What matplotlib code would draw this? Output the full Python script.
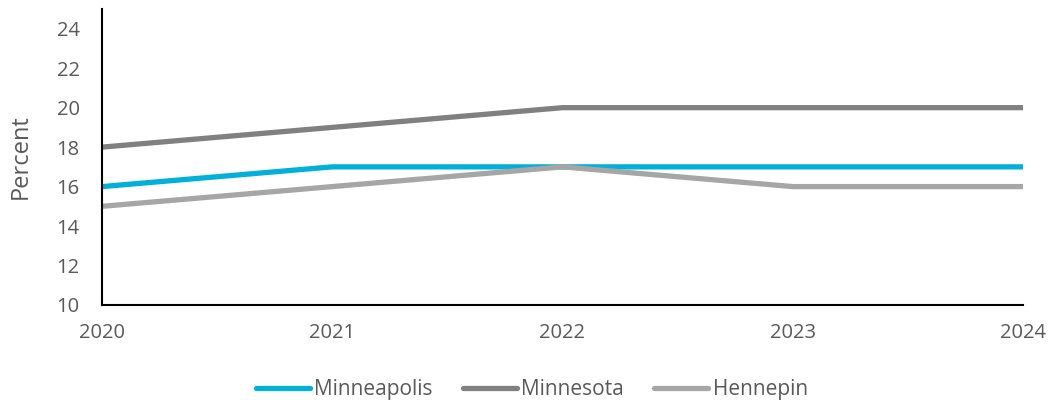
import matplotlib
matplotlib.use("Agg")
import matplotlib.pyplot as plt

years = [2020, 2021, 2022, 2023, 2024]
minneapolis = [16, 17, 17, 17, 17]
minnesota = [18, 19, 20, 20, 20]
hennepin = [15, 16, 17, 16, 16]
yticks = [10, 12, 14, 16, 18, 20, 22, 24]

plt.rcParams['font.family'] = ['Open Sans', 'DejaVu Sans']
txt = '#595959'

fig = plt.figure(figsize=(10.51, 4.0), dpi=100)
ax = fig.add_axes([0.097, 0.2375, 0.8764, 0.74])

ax.plot(years, minneapolis, color='#00B0D8', lw=3.8, solid_capstyle='round', label='Minneapolis')
ax.plot(years, minnesota, color='#808080', lw=3.8, solid_capstyle='round', label='Minnesota')
ax.plot(years, hennepin, color='#A6A6A6', lw=3.8, solid_capstyle='round', label='Hennepin')

ax.set_xlim(2020, 2024)
ax.set_ylim(10, 25)
ax.set_xticks(years)
ax.set_yticks(yticks)
ax.tick_params(axis='both', length=0, labelsize=14.5, colors=txt)
ax.tick_params(axis='y', pad=16)
ax.tick_params(axis='x', pad=13)
for s in ['top', 'right']:
    ax.spines[s].set_visible(False)
for s in ['left', 'bottom']:
    ax.spines[s].set_linewidth(1.5)
    ax.spines[s].set_color('black')
ax.set_ylabel('Percent', fontsize=17, color=txt, labelpad=17)

fig.legend(loc='center', bbox_to_anchor=(0.506, 0.026), ncol=3, frameon=False,
           fontsize=15, handlelength=2.6, handletextpad=0.2, columnspacing=1.45,
           labelcolor=txt)

fig.savefig('out.png', dpi=100)
